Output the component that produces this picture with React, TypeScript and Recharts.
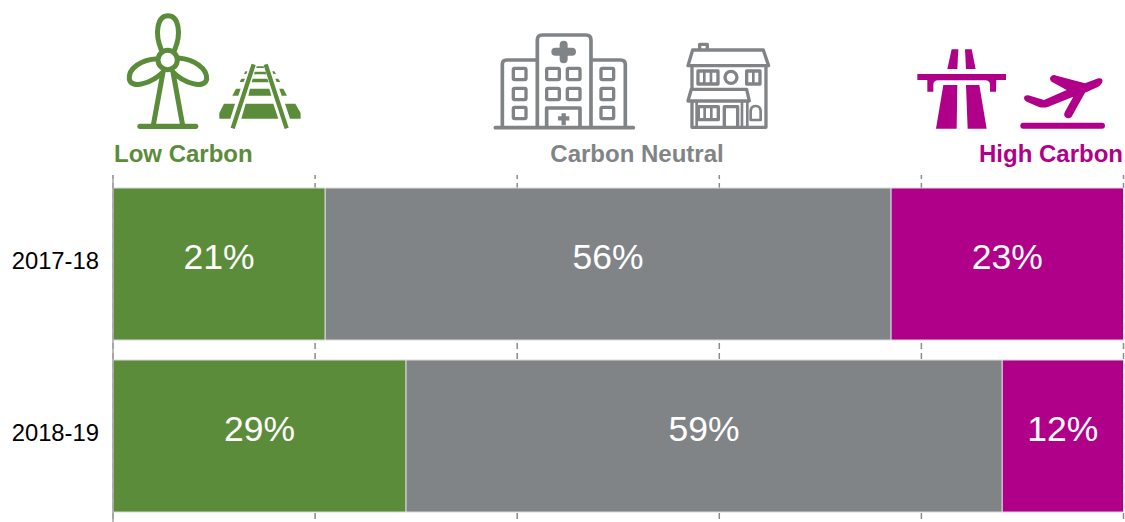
import React from 'react';
import { BarChart, Bar, XAxis, YAxis, CartesianGrid, LabelList } from 'recharts';

const years = ['2017-18', '2018-19'];
const lowCarbon = [21, 29];
const carbonNeutral = [56, 59];
const highCarbon = [23, 12];
const shareTicks = [0, 20, 40, 60, 80, 100];

const GREEN = '#5b8c3a';
const GREY = '#818486';
const MAGENTA = '#b0008a';
const FONT = '"Liberation Sans", Arial, sans-serif';

const chartData = years.map((year, i) => ({
  year,
  low: lowCarbon[i],
  neutral: carbonNeutral[i],
  high: highCarbon[i],
}));

// Percent label, sitting a little above the middle of its segment
const SegmentLabel = (props: any) => {
  const { x, y, width, height, value } = props;
  return (
    <text
      x={x + width / 2}
      y={y + height / 2 + 5}
      fill="#fff"
      fontSize={35.5}
      fontFamily={FONT}
      textAnchor="middle"
    >
      {value}%
    </text>
  );
};

const WindTurbine = () => (
  <g transform="translate(100,0) scale(0.3333)" fill="none" stroke={GREEN} strokeWidth={15} strokeLinecap="round" strokeLinejoin="round">
    <circle cx={203} cy={180} r={29} />
    <path d="M184 150 C163 100 172 47 204 47 C236 47 245 100 224 150" />
    <path d="M172 176 C125 178 84 205 88 238 C95 268 155 250 190 215" />
    <path d="M236 174 C282 178 322 205 320 238 C313 268 252 250 218 215" />
    <path d="M188 222 L160 376 M220 222 L248 376" />
    <path d="M120 379 H287" strokeWidth={16} />
  </g>
);

const RailTrack = () => (
  <g transform="translate(100,0) scale(0.3333)" fill={GREEN}>
    <path d="M461 193 L398 385 M497 193 L560 385" stroke={GREEN} strokeWidth={13} fill="none" />
    <path d="M437 311 H520 L535 356 H424 Z" />
    <path d="M450 266 H508 L514 287 H445 Z" />
    <path d="M458 236 H502 L506 247 H455 Z" />
    <path d="M464 215 H497 L499 223 H462 Z" />
    <path d="M470 199 H491 L492 204 H469 Z" />
    <path d="M372 311 H405 L391 356 H358 V339 Z" />
    <path d="M555 311 H586 L602 339 V356 H570 Z" />
    <path d="M408 266 H422 L415 287 H397 Z" />
    <path d="M538 266 H550 L561 287 H545 Z" />
    <path d="M424 236 H435 L431 246 H419 Z" />
    <path d="M526 236 H535 L541 246 H530 Z" />
    <path d="M436 214 H442 L439 222 H432 Z" />
    <path d="M517 214 H523 L528 222 H520 Z" />
  </g>
);

const Hospital = () => {
  const windows = [
    [100, 145], [100, 205], [100, 262],
    [200, 145], [200, 205], [262, 145], [262, 205],
    [363, 145], [363, 205], [363, 262],
  ];
  return (
    <g transform="translate(480,20) scale(0.3333)" fill="none" stroke={GREY} strokeWidth={11} strokeLinejoin="round">
      <path d="M46 323 H460" strokeWidth={11} strokeLinecap="round" />
      <path d="M172 320 V60 Q172 45 187 45 H318 Q333 45 333 60 V320" />
      <path d="M172 120 H80 Q67 120 67 133 V320 M333 120 H422 Q436 120 436 133 V320" />
      <path d="M226 95 H276 M251 74 V118" strokeWidth={24} strokeLinecap="round" />
      {windows.map(([wx, wy], i) => (
        <rect key={i} x={wx} y={wy} width={38} height={34} rx={4} strokeWidth={10} />
      ))}
      <path d="M200 320 V264 H300 V320" />
      <path d="M234 295 H268 M251 280 V316" strokeWidth={13} />
    </g>
  );
};

const House = () => (
  <g transform="translate(480,20) scale(0.3333)" fill="none" stroke={GREY} strokeWidth={10} strokeLinejoin="round">
    <path d="M624 137 L638 90 H850 L866 137 Z" />
    <path d="M659 88 V73 H682 V88" />
    <path d="M636 137 V322 H858 V137" />
    <rect x={654} y={153} width={60} height={39} />
    <path d="M673 153 V192 M693 153 V192" strokeWidth={8} />
    <circle cx={753} cy={172} r={18} />
    <rect x={800} y={153} width={40} height={39} />
    <path d="M820 153 V192" strokeWidth={8} />
    <path d="M624 243 L634 208 H800 L808 243 Z" fill="#fff" />
    <path d="M650 243 V322 M786 243 V322 M802 243 V322" strokeWidth={8} />
    <rect x={655} y={260} width={60} height={39} />
    <path d="M674 260 V299 M694 260 V299" strokeWidth={8} />
    <path d="M733 322 V260 H773 V322" />
    <path d="M812 300 V275 Q812 258 827 258 Q842 258 842 275 V300 Z" strokeWidth={8} />
  </g>
);

const Motorway = () => (
  <g transform="translate(900,30) scale(0.3333)" fill={MAGENTA}>
    <path d="M155 58 H175 L172 117 H142 Z" />
    <path d="M195 58 H215 L227 117 H198 Z" />
    <path d="M52 132 H318 V150 H289 L288 185 H270 V165 Q270 151 255 151 H115 Q100 151 100 165 V185 H82 V150 H52 Z" />
    <path d="M130 165 H172 L170 296 H108 Z" />
    <path d="M198 165 H238 L260 296 H203 Z" />
  </g>
);

const Plane = () => (
  <g transform="translate(900,30) scale(0.3333)" fill={MAGENTA}>
    <path d="M369 278 H606 Q615 278 615 287 Q615 296 606 296 H369 Q361 296 361 287 Q361 278 369 278 Z" />
    <path d="M372 205 Q372 195 385 196 L432 210 L500 180 L455 155 Q445 145 455 137 Q462 133 470 137 L555 160 L595 145 Q610 143 607 157 Q600 170 585 175 L555 188 L515 260 Q505 270 495 260 Q490 255 495 245 L520 200 L445 230 Q430 235 415 230 L380 215 Q372 210 372 205 Z" />
  </g>
);

// Icons and group headings above the bars
const Header = () => (
  <svg width={1125} height={175} style={{ position: 'absolute', left: 0, top: 0 }}>
    <WindTurbine />
    <RailTrack />
    <Hospital />
    <House />
    <Motorway />
    <Plane />
    <g fontFamily={FONT} fontWeight={700} fontSize={24}>
      <text x={114} y={162} fill={GREEN}>Low Carbon</text>
      <text x={637} y={162} fill={GREY} textAnchor="middle">Carbon Neutral</text>
      <text x={1123} y={162} fill={MAGENTA} textAnchor="end">High Carbon</text>
    </g>
  </svg>
);

const App = () => {
  return (
    <div style={{ position: 'absolute', left: 0, top: 0, width: 1125, height: 522, overflow: 'hidden', background: '#fff' }}>
      <BarChart
        width={1125}
        height={530}
        data={chartData}
        layout="vertical"
        margin={{ top: 175, right: 1.5, bottom: 5, left: 0 }}
      >
        <CartesianGrid horizontal={false} stroke="#8c8c8c" strokeWidth={1.5} strokeDasharray="6 4" strokeDashoffset={2} />
        <XAxis type="number" domain={[0, 100]} ticks={shareTicks} hide />
        <YAxis
          type="category"
          dataKey="year"
          width={113}
          padding={{ top: 3, bottom: 3 }}
          axisLine={{ stroke: '#a6a6a6', strokeWidth: 1.5 }}
          tickLine={false}
          tickMargin={8}
          tick={{ fill: '#000', fontSize: 23.8, fontFamily: FONT, dy: -3 }}
        />
        <Bar dataKey="low" stackId="a" fill={GREEN} stroke="#d9d9d9" barSize={152} isAnimationActive={false}>
          <LabelList dataKey="low" content={SegmentLabel} />
        </Bar>
        <Bar dataKey="neutral" stackId="a" fill={GREY} stroke="#d9d9d9" barSize={152} isAnimationActive={false}>
          <LabelList dataKey="neutral" content={SegmentLabel} />
        </Bar>
        <Bar dataKey="high" stackId="a" fill={MAGENTA} stroke="#d9d9d9" barSize={152} isAnimationActive={false}>
          <LabelList dataKey="high" content={SegmentLabel} />
        </Bar>
      </BarChart>
      <Header />
    </div>
  );
};

export default App;
